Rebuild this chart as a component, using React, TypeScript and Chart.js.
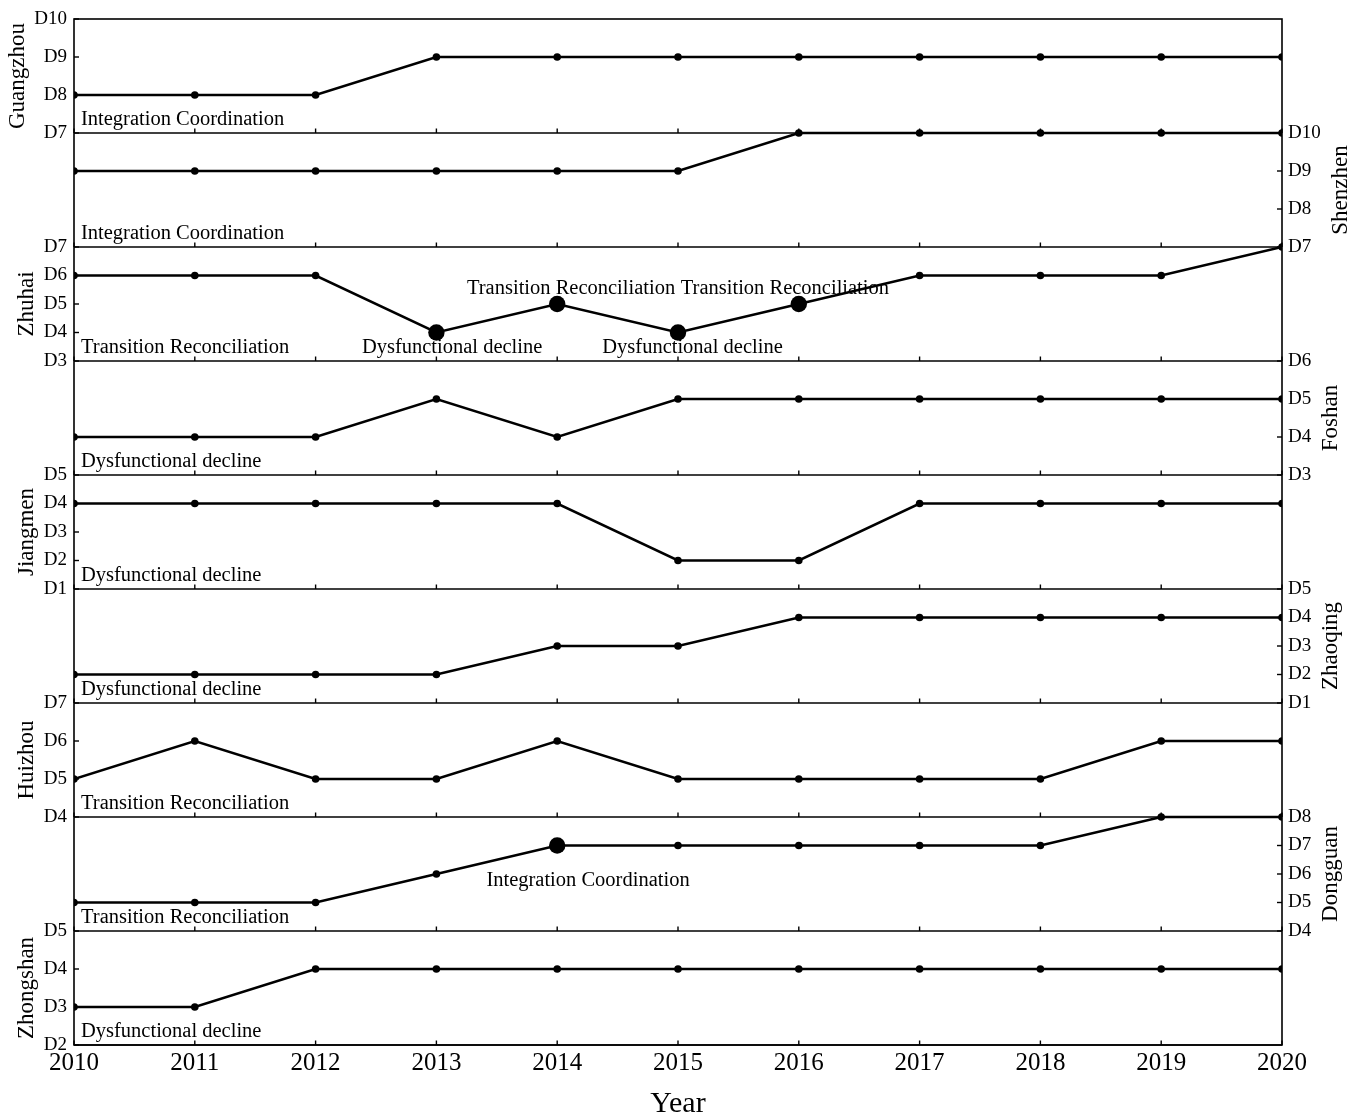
import React, { useEffect, useRef } from 'react';
import { Chart, registerables } from 'chart.js';

Chart.register(...registerables);

const FONT = '"Liberation Serif", "Times New Roman", Times, serif';

// ---------- data ----------
const YEARS = [2010, 2011, 2012, 2013, 2014, 2015, 2016, 2017, 2018, 2019, 2020];

const CITIES = ['Guangzhou', 'Shenzhen', 'Zhuhai', 'Foshan', 'Jiangmen', 'Zhaoqing', 'Huizhou', 'Dongguan', 'Zhongshan'];

const GUANGZHOU = [8, 8, 8, 9, 9, 9, 9, 9, 9, 9, 9];
const SHENZHEN = [9, 9, 9, 9, 9, 9, 10, 10, 10, 10, 10];
const ZHUHAI = [6, 6, 6, 4, 5, 4, 5, 6, 6, 6, 7];
const FOSHAN = [4, 4, 4, 5, 4, 5, 5, 5, 5, 5, 5];
const JIANGMEN = [4, 4, 4, 4, 4, 2, 2, 4, 4, 4, 4];
const ZHAOQING = [2, 2, 2, 2, 3, 3, 4, 4, 4, 4, 4];
const HUIZHOU = [5, 6, 5, 5, 6, 5, 5, 5, 5, 6, 6];
const DONGGUAN = [5, 5, 5, 6, 7, 7, 7, 7, 7, 8, 8];
const ZHONGSHAN = [3, 3, 4, 4, 4, 4, 4, 4, 4, 4, 4];

const AXIS_MIN = [7, 7, 3, 3, 1, 1, 4, 4, 2];
const AXIS_MAX = [10, 10, 7, 6, 5, 5, 7, 8, 5];
const AXIS_SIDE = ['left', 'right', 'left', 'right', 'left', 'right', 'left', 'right', 'left'];

const STAGE_LABELS = [
  'Integration Coordination',
  'Integration Coordination',
  'Transition Reconciliation',
  'Dysfunctional decline',
  'Dysfunctional decline',
  'Dysfunctional decline',
  'Transition Reconciliation',
  'Transition Reconciliation',
  'Dysfunctional decline',
];

// highlighted (large) points
const ZHUHAI_HIGHLIGHT_YEARS = [2013, 2014, 2015, 2016];
const DONGGUAN_HIGHLIGHT_YEARS = [2014];

// in-panel notes (panel index, year, level, text)
const NOTE_PANEL = [2, 2, 2, 2, 7];
const NOTE_YEAR = [2013.13, 2014.115, 2015.12, 2015.885, 2014.255];
const NOTE_LEVEL = [3.29, 5.34, 3.29, 5.34, 5.59];
const NOTE_TEXT = [
  'Dysfunctional decline',
  'Transition Reconciliation',
  'Dysfunctional decline',
  'Transition Reconciliation',
  'Integration Coordination',
];

const SERIES = [GUANGZHOU, SHENZHEN, ZHUHAI, FOSHAN, JIANGMEN, ZHAOQING, HUIZHOU, DONGGUAN, ZHONGSHAN];

const axisId = (i: number, side: string) => (side === 'left' ? 'yL' : 'yR') + i;

const panelPlugin = {
  id: 'panelPlugin',
  beforeDatasetsDraw(chart: any) {
    const { ctx, chartArea: ca } = chart;
    const xs = chart.scales.x;
    ctx.save();
    ctx.strokeStyle = '#000';
    ctx.lineWidth = 1.6;
    ctx.lineCap = 'butt';
    ctx.strokeRect(ca.left, ca.top, ca.right - ca.left, ca.bottom - ca.top);
    CITIES.forEach((_, i) => {
      const ys = chart.scales[axisId(i, AXIS_SIDE[i])];
      ctx.beginPath();
      ctx.moveTo(ca.left, ys.bottom);
      ctx.lineTo(ca.right, ys.bottom);
      ctx.stroke();
      ctx.lineWidth = 1.4;
      YEARS.forEach((yr) => {
        const px = xs.getPixelForValue(yr);
        ctx.beginPath();
        ctx.moveTo(px, ys.bottom);
        ctx.lineTo(px, ys.bottom - 4.5);
        ctx.stroke();
      });
      for (let v = AXIS_MIN[i]; v <= AXIS_MAX[i]; v++) {
        const py = ys.getPixelForValue(v);
        ctx.beginPath();
        if (AXIS_SIDE[i] === 'left') {
          ctx.moveTo(ca.left, py);
          ctx.lineTo(ca.left + 5, py);
        } else {
          ctx.moveTo(ca.right, py);
          ctx.lineTo(ca.right - 5, py);
        }
        ctx.stroke();
      }
      ctx.lineWidth = 1.6;
    });
    ctx.restore();
  },
  afterDatasetsDraw(chart: any) {
    const { ctx, chartArea: ca } = chart;
    const xs = chart.scales.x;
    ctx.save();
    ctx.fillStyle = '#000';
    // stage labels at panel bottom-left
    ctx.font = `20.5px ${FONT}`;
    ctx.textBaseline = 'alphabetic';
    ctx.textAlign = 'left';
    CITIES.forEach((_, i) => {
      const ys = chart.scales[axisId(i, AXIS_SIDE[i])];
      ctx.fillText(STAGE_LABELS[i], ca.left + 7, ys.bottom - 8.5);
    });
    // notes
    ctx.textAlign = 'center';
    NOTE_TEXT.forEach((t, k) => {
      const p = NOTE_PANEL[k];
      const ys = chart.scales[axisId(p, AXIS_SIDE[p])];
      ctx.fillText(t, xs.getPixelForValue(NOTE_YEAR[k]), ys.getPixelForValue(NOTE_LEVEL[k]));
    });
    // rotated city titles
    CITIES.forEach((city, i) => {
      const side = AXIS_SIDE[i];
      const ys = chart.scales[axisId(i, side)];
      ctx.font = `19px ${FONT}`;
      let maxW = 0;
      for (let v = AXIS_MIN[i]; v <= AXIS_MAX[i]; v++) {
        maxW = Math.max(maxW, ctx.measureText('D' + v).width);
      }
      const cy = (ys.top + ys.bottom) / 2;
      let bx: number;
      if (side === 'left') {
        bx = ca.left - 7 - maxW - 10.5;
      } else {
        bx = ca.right + 6 + maxW + 26;
      }
      ctx.font = `23px ${FONT}`;
      ctx.save();
      ctx.translate(bx, cy);
      ctx.rotate(-Math.PI / 2);
      ctx.textAlign = 'center';
      ctx.textBaseline = 'alphabetic';
      ctx.fillText(city, 0, 0);
      ctx.restore();
    });
    ctx.restore();
  },
};

export default function App() {
  const ref = useRef<HTMLCanvasElement>(null);

  useEffect(() => {
    const canvas = ref.current;
    if (!canvas) return;

    const scales: any = {
      x: {
        type: 'linear',
        position: 'bottom',
        min: 2010,
        max: 2020,
        afterFit: (s: any) => {
          s.height = 70;
        },
        grid: { display: false, drawTicks: false },
        border: { display: false },
        ticks: {
          stepSize: 1,
          autoSkip: false,
          maxRotation: 0,
          padding: 3.5,
          color: '#000',
          font: { family: FONT, size: 25 },
          callback: (v: any) => String(v),
        },
        title: {
          display: true,
          text: 'Year',
          color: '#000',
          font: { family: FONT, size: 30, lineHeight: 0.7 },
          padding: { top: 0, bottom: 0 },
        },
      },
    };

    CITIES.forEach((_, i) => {
      ['left', 'right'].forEach((pos) => {
        const labeled = AXIS_SIDE[i] === pos;
        scales[axisId(i, pos)] = {
          type: 'linear',
          position: pos,
          stack: pos === 'left' ? 'stackL' : 'stackR',
          stackWeight: 1,
          weight: pos === 'left' ? CITIES.length - i : i,
          min: AXIS_MIN[i],
          max: AXIS_MAX[i],
          grid: { display: false, drawTicks: false },
          border: { display: false },
          afterFit: (s: any) => {
            s.width = pos === 'left' ? 74 : 81;
          },
          ticks: {
            display: labeled,
            stepSize: 1,
            autoSkip: false,
            padding: pos === 'left' ? 7 : 6,
            color: '#000',
            font: { family: FONT, size: 19 },
            callback: (v: any) => 'D' + v,
          },
        };
      });
    });

    const highlights = CITIES.map((c) =>
      c === 'Zhuhai' ? ZHUHAI_HIGHLIGHT_YEARS : c === 'Dongguan' ? DONGGUAN_HIGHLIGHT_YEARS : []
    );

    const chart = new Chart(canvas, {
      type: 'line',
      data: {
        datasets: CITIES.map((c, i) => ({
          label: c,
          data: YEARS.map((yr, j) => ({ x: yr, y: SERIES[i][j] })),
          xAxisID: 'x',
          yAxisID: axisId(i, AXIS_SIDE[i]),
          borderColor: '#000',
          backgroundColor: '#000',
          borderWidth: 2.6,
          pointBackgroundColor: '#000',
          pointBorderColor: '#000',
          pointBorderWidth: 0,
          pointRadius: YEARS.map((yr) => (highlights[i].includes(yr) ? 8.2 : 3.8)),
          pointHoverRadius: YEARS.map((yr) => (highlights[i].includes(yr) ? 8.2 : 3.8)),
          tension: 0,
          fill: false,
          clip: { left: 0, right: 0, top: 5, bottom: 5 },
        })) as any,
      },
      options: {
        animation: false,
        responsive: false,
        devicePixelRatio: 1,
        layout: { padding: { top: 19, left: 0, right: 0, bottom: 0 } },
        plugins: {
          legend: { display: false },
          tooltip: { enabled: false },
        },
        events: [],
        scales,
      } as any,
      plugins: [panelPlugin as any],
    });

    return () => chart.destroy();
  }, []);

  return (
    <div style={{ position: 'absolute', left: 0, top: 0, width: 1363, height: 1115, background: '#fff' }}>
      <canvas ref={ref} width={1363} height={1115} style={{ display: 'block', width: 1363, height: 1115 }} />
    </div>
  );
}
